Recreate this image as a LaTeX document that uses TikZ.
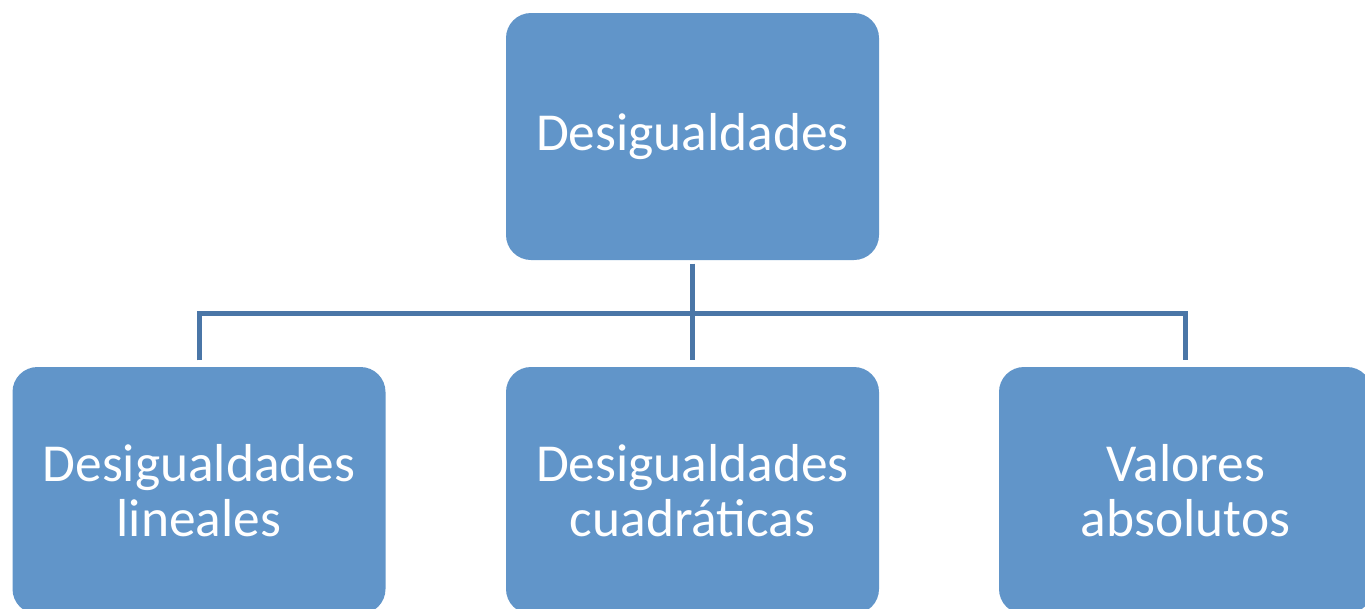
\documentclass[tikz,border=0pt]{standalone}
\usepackage{fontspec}
\setmainfont{Carlito}
\usepackage{tikz}
\definecolor{boxblue}{RGB}{97,149,201}
\definecolor{lineblue}{RGB}{74,118,167}

\begin{document}
\begin{tikzpicture}
\useasboundingbox (0,0) rectangle (13.65,-6.09);
\begin{scope}[every node/.style={rectangle,rounded corners=0.25cm,fill=boxblue,
              text=white,align=center,minimum width=3.73cm,minimum height=2.47cm,
              font=\fontsize{15.2}{15.6}\selectfont}]
    \node (d) at (6.925,-1.365) {Desigualdades};
    \node (dl) at (1.99,-4.905) {Desigualdades\\lineales};
    \node (dc) at (6.925,-4.905) {Desigualdades\\cuadráticas};
    \node (va) at (11.855,-4.905) {Valores\\absolutos};
\end{scope}

\coordinate (bus) at (6.925,-3.13);

\begin{scope}[every path/.style={draw=lineblue,line width=0.05cm}]
    \path ([yshift=-0.03cm]d.south) -- ([yshift=0.06cm]dc.north);
    \path ([yshift=0.06cm]dl.north) -- (dl.north |- bus) -- (va.north |- bus) -- ([yshift=0.06cm]va.north);
\end{scope}
\end{tikzpicture}
\end{document}
